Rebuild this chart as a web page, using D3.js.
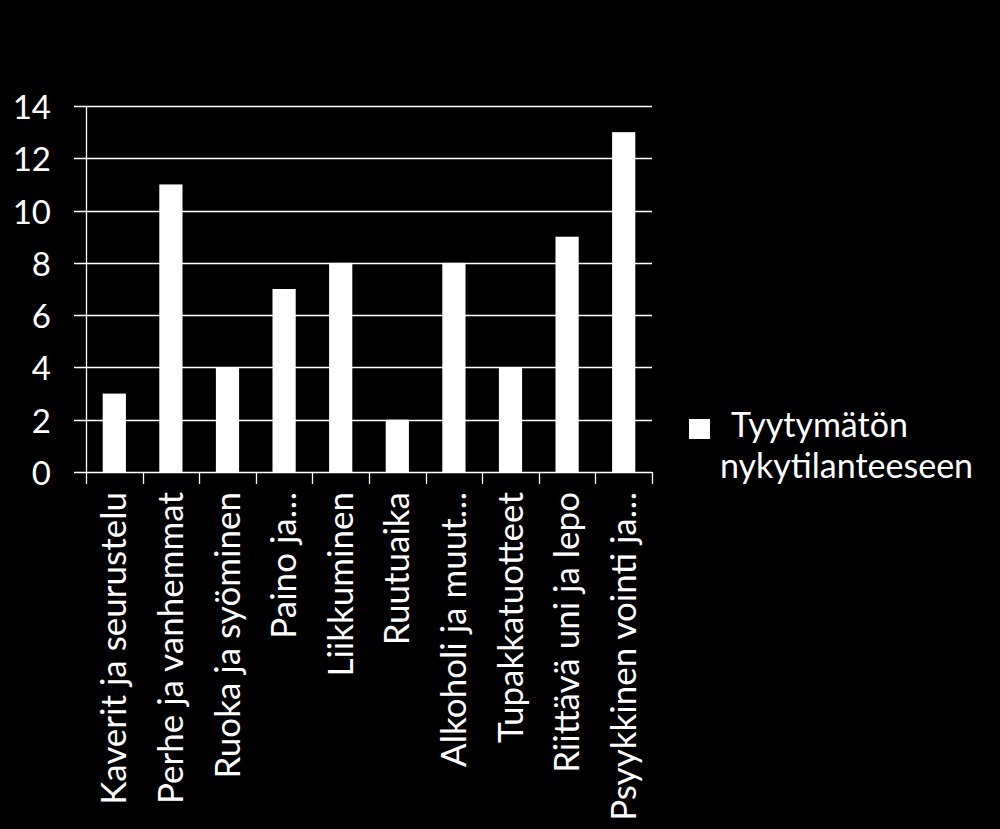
<!DOCTYPE html>
<html>
<head>
<meta charset="utf-8">
<script src="https://cdn.jsdelivr.net/npm/d3@7"></script>
<style>
  html, body { margin: 0; padding: 0; background: #000; }
  svg { display: block; }
  text { font-family: Lato, "Open Sans", sans-serif; fill: #fff; }
</style>
</head>
<body>
<svg id="chart" width="1000" height="829"></svg>
<script>
const categories = [
  "Kaverit ja seurustelu",
  "Perhe ja vanhemmat",
  "Ruoka ja syöminen",
  "Paino ja…",
  "Liikkuminen",
  "Ruutuaika",
  "Alkoholi ja muut…",
  "Tupakkatuotteet",
  "Riittävä uni ja lepo",
  "Psyykkinen vointi ja…"
];
const values = [3, 11, 4, 7, 8, 2, 8, 4, 9, 13];
const yTicks = [0, 2, 4, 6, 8, 10, 12, 14];
const seriesName = ["Tyytymätön", "nykytilanteeseen"];

const svg = d3.select("#chart");
const pLeft = 86, pRight = 652, pTop = 106, pBottom = 472;

const x = d3.scaleBand().domain(categories).range([pLeft, pRight]).paddingInner(0.59).paddingOuter(0.295);
const y = d3.scaleLinear().domain([0, 14]).range([pBottom, pTop]);

// gridlines
svg.append("g").selectAll("line").data(yTicks).join("line")
  .attr("x1", 74).attr("x2", pRight)
  .attr("y1", d => Math.round(y(d)) + 0.5).attr("y2", d => Math.round(y(d)) + 0.5)
  .attr("stroke", "#fff").attr("stroke-width", 1.3);

// y axis line
svg.append("line").attr("x1", pLeft + 0.5).attr("x2", pLeft + 0.5)
  .attr("y1", pTop).attr("y2", pBottom).attr("stroke", "#fff").attr("stroke-width", 1.3);

// y tick labels
svg.append("g").selectAll("text").data(yTicks).join("text")
  .attr("x", 51).attr("y", d => y(d))
  .attr("text-anchor", "end").attr("dominant-baseline", "central")
  .style("font-size", "33px")
  .text(d => d);

// bars
svg.append("g").selectAll("rect").data(values).join("rect")
  .attr("x", (d, i) => x(categories[i]))
  .attr("width", x.bandwidth())
  .attr("y", d => y(d))
  .attr("height", d => y(0) - y(d))
  .attr("fill", "#fff");

// bottom ticks at band boundaries
const bounds = d3.range(categories.length + 1).map(i => pLeft + i * (pRight - pLeft) / categories.length);
svg.append("g").selectAll("line").data(bounds).join("line")
  .attr("x1", d => Math.round(d) + 0.5).attr("x2", d => Math.round(d) + 0.5)
  .attr("y1", pBottom).attr("y2", pBottom + 12)
  .attr("stroke", "#fff").attr("stroke-width", 1.3);

// category labels
svg.append("g").selectAll("text").data(categories).join("text")
  .attr("transform", d => `translate(${x(d) + x.bandwidth() / 2 + 12},${492}) rotate(-90)`)
  .attr("text-anchor", "end")
  .style("font-size", "35px")
  .text(d => d);

// legend
svg.append("rect").attr("x", 689).attr("y", 419).attr("width", 21).attr("height", 20).attr("fill", "#fff");
svg.append("text").attr("x", 731).attr("y", 437).style("font-size", "34px").text(seriesName[0]);
svg.append("text").attr("x", 720).attr("y", 478).style("font-size", "34px").text(seriesName[1]);
</script>
</body>
</html>
